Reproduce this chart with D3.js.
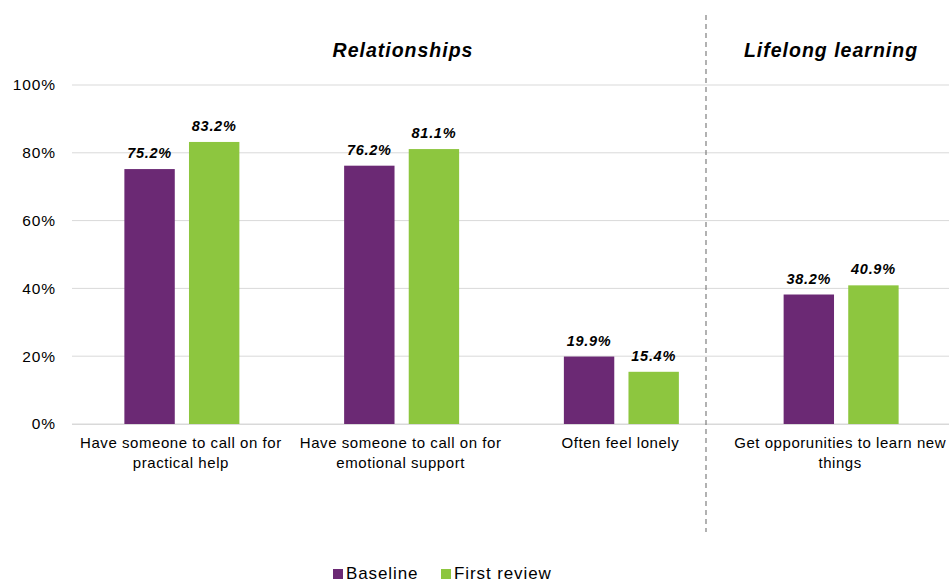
<!DOCTYPE html>
<html>
<head>
<meta charset="utf-8">
<script src="https://cdn.jsdelivr.net/npm/d3@7"></script>
<style>
  html, body { margin: 0; padding: 0; background: #fff; }
  svg { display: block; font-family: "Liberation Sans", Arial, sans-serif; }
</style>
</head>
<body>
<svg id="chart" width="949" height="583"></svg>
<script>
// Category labels (each split into display lines)
const categories = [
  ["Have someone to call on for", "practical help"],
  ["Have someone to call on for", "emotional support"],
  ["Often feel lonely"],
  ["Get opporunities to learn new", "things"]
];
const seriesNames = ["Baseline", "First review"];
const baseline = [75.2, 76.2, 19.9, 38.2];
const firstReview = [83.2, 81.1, 15.4, 40.9];
const yTicks = [0, 20, 40, 60, 80, 100];
const sections = [
  { title: "Relationships", from: 0, to: 2 },
  { title: "Lifelong learning", from: 3, to: 3 }
];
const colors = ["#6b2974", "#8dc63f"];

const svg = d3.select("#chart");
const plotLeft = 72, plotRight = 951, plotTop = 85, plotBottom = 424;

const x0 = d3.scaleBand().domain(d3.range(categories.length)).range([plotLeft, plotRight]).padding(0);
const x1 = d3.scaleBand().domain([0, 1]).range([0, 115]).paddingInner(0.22);
const groupOffset = (x0.bandwidth() - 115) / 2;
const y = d3.scaleLinear().domain([0, 100]).range([plotBottom, plotTop]);

// Gridlines
svg.append("g")
  .selectAll("line")
  .data(yTicks)
  .join("line")
  .attr("x1", plotLeft).attr("x2", 949)
  .attr("y1", d => y(d)).attr("y2", d => y(d))
  .attr("stroke", "#d9d9d9").attr("stroke-width", 1);

// Y axis labels
const yAxis = d3.axisLeft(y).tickValues(yTicks).tickFormat(d => d + "%").tickSize(0).tickPadding(0);
const gy = svg.append("g").attr("transform", `translate(56,0)`).call(yAxis);
gy.select(".domain").remove();
gy.selectAll("text").attr("font-size", 15.5).attr("fill", "#000")
  .attr("letter-spacing", 0.9)
  .attr("font-family", "Liberation Sans, Arial, sans-serif");

// Bars
const data = categories.map((c, i) => ({ i, vals: [baseline[i], firstReview[i]] }));
const groups = svg.append("g").selectAll("g")
  .data(data).join("g")
  .attr("transform", d => `translate(${x0(d.i) + groupOffset},0)`);

groups.selectAll("rect")
  .data(d => d.vals.map((v, s) => ({ v, s })))
  .join("rect")
  .attr("x", d => x1(d.s))
  .attr("width", x1.bandwidth())
  .attr("y", d => y(d.v))
  .attr("height", d => y(0) - y(d.v))
  .attr("fill", d => colors[d.s]);

groups.selectAll("text.val")
  .data(d => d.vals.map((v, s) => ({ v, s })))
  .join("text")
  .attr("class", "val")
  .attr("x", d => x1(d.s) + x1.bandwidth() / 2)
  .attr("y", d => y(d.v) - 11)
  .attr("text-anchor", "middle")
  .attr("font-size", 14.5)
  .attr("letter-spacing", 0.7)
  .attr("font-weight", "bold")
  .attr("font-style", "italic")
  .text(d => d.v.toFixed(1) + "%");

// Baseline axis line
svg.append("line")
  .attr("x1", plotLeft).attr("x2", 949)
  .attr("y1", plotBottom + 0.5).attr("y2", plotBottom + 0.5)
  .attr("stroke", "#d9d9d9");

// Category labels
const cat = svg.append("g").selectAll("text")
  .data(categories).join("text")
  .attr("x", (d, i) => x0(i) + x0.bandwidth() / 2 - 1)
  .attr("y", 448)
  .attr("text-anchor", "middle")
  .attr("font-size", 15)
  .attr("letter-spacing", 0.55);
cat.selectAll("tspan")
  .data(d => d).join("tspan")
  .attr("x", function () { return this.parentNode.getAttribute("x"); })
  .attr("dy", (d, i) => i === 0 ? 0 : 20)
  .text(d => d);

// Section titles
svg.append("g").selectAll("text")
  .data(sections).join("text")
  .attr("x", d => d.from === 0 ? 403 : 831)
  .attr("y", 57)
  .attr("text-anchor", "middle")
  .attr("font-size", 19.5)
  .attr("letter-spacing", 1)
  .attr("font-weight", "bold")
  .attr("font-style", "italic")
  .text(d => d.title);

// Section divider
svg.append("line")
  .attr("x1", 706).attr("x2", 706)
  .attr("y1", 15).attr("y2", 532)
  .attr("stroke", "#7f7f7f").attr("stroke-width", 1.2)
  .attr("stroke-dasharray", "5,4");

// Legend
const legend = svg.append("g").selectAll("g")
  .data(seriesNames).join("g")
  .attr("transform", (d, i) => `translate(${[333, 441][i]},0)`);
legend.append("rect")
  .attr("x", 0).attr("y", 569).attr("width", 10).attr("height", 10)
  .attr("fill", (d, i) => colors[i]);
legend.append("text")
  .attr("x", 13).attr("y", 579)
  .attr("font-size", 17)
  .attr("letter-spacing", 0.9)
  .text(d => d);
</script>
</body>
</html>
